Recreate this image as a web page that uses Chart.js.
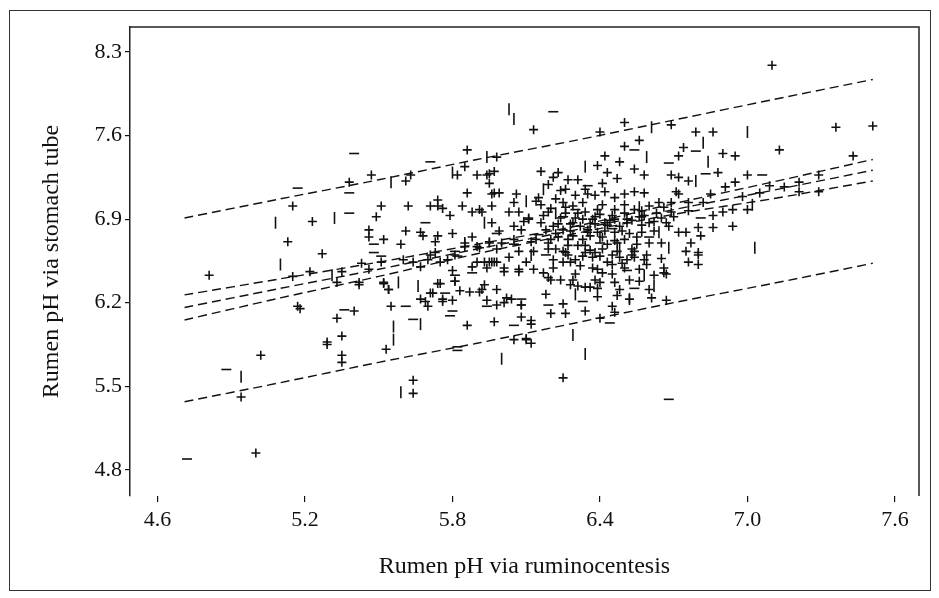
<!DOCTYPE html>
<html>
<head>
<meta charset="utf-8">
<script src="https://cdn.jsdelivr.net/npm/chart.js@4.4.1/dist/chart.umd.min.js"></script>
<style>
  html, body { margin: 0; padding: 0; background: #fff; }
  #wrap { width: 939px; height: 598px; position: relative; }
  #phChart { display: block; }
</style>
</head>
<body>
<div id="wrap"><canvas id="phChart" width="939" height="598"></canvas></div>
<script>
// ===============================
// Data
// ===============================
const xTicks = [4.6, 5.2, 5.8, 6.4, 7.0, 7.6];
const yTicks = [4.8, 5.5, 6.2, 6.9, 7.6, 8.3];

// markers drawn as "+"
const plusPts = [
  [5.47,7.27],[5.38,7.21],[5.15,7.01],[5.51,7.01],[5.62,7.01],[5.49,6.92],[5.23,6.88],[5.46,6.81],[5.61,6.80],
  [5.46,6.75],[5.52,6.73],[5.13,6.71],[5.59,6.69],[5.27,6.61],[5.60,6.56],[5.43,6.53],[5.63,7.27],[5.61,7.22],
  [4.81,6.43],[5.15,6.42],[5.22,6.46],[5.33,6.37],[5.42,6.37],[5.52,6.37],[5.54,6.31],[5.17,6.17],[5.18,6.15],
  [5.40,6.13],[5.33,6.07],[5.55,6.17],[5.35,5.92],[5.29,5.87],[5.29,5.85],[5.53,5.81],[5.02,5.76],[5.35,5.76],
  [5.35,5.70],[4.94,5.41],[5.00,4.94],[5.64,5.55],[5.64,5.44],
  [6.25,5.57],[6.05,5.89],[6.10,5.90],[6.12,5.86],[5.86,6.01],[5.70,6.17],[5.67,6.23],[5.76,6.21],[5.80,6.22],
  [5.72,6.28],[5.74,6.36],[5.81,6.38],[5.83,6.30],[5.91,6.29],[5.93,6.35],[5.98,6.31],[5.94,6.22],[5.98,6.18],
  [6.01,6.20],[6.04,6.23],[6.08,6.18],[6.08,6.08],[5.97,6.04],[6.12,6.05],[6.12,6.02],[6.01,6.46],[6.07,6.46],
  [6.18,6.27],[6.20,6.11],[6.25,6.19],[6.26,6.11],[6.34,6.13],[6.29,6.39],[6.31,6.34],[6.36,6.33],[6.39,6.25],
  [6.39,6.32],[6.41,6.45],[6.46,6.37],[6.45,6.17],[6.46,6.12],[6.40,6.07],[6.20,6.39],[6.19,6.41],[6.38,6.39],
  [6.67,6.44],[6.67,6.22],
  [6.13,7.65],[6.50,7.71],[6.56,7.56],[6.50,7.51],[6.40,7.63],[5.86,7.48],[5.98,7.42],[6.42,7.43],[6.48,7.38],
  [5.82,7.27],[5.85,7.34],[5.90,7.27],[5.94,7.27],[5.95,7.20],[5.97,7.30],[6.16,7.30],[6.23,7.29],[6.39,7.35],
  [6.43,7.29],[6.47,7.24],[6.54,7.32],[6.58,7.27],[6.21,7.25],[6.27,7.23],[6.31,7.23],[6.19,7.19],[6.24,7.14],
  [6.41,7.20],[5.86,7.12],[5.97,7.12],[5.74,7.06],[5.71,7.01],[5.76,6.99],[5.84,7.01],[5.79,6.93],[5.88,6.96],
  [5.92,6.96],[5.96,7.01],[6.05,7.04],[6.15,7.08],[6.03,6.96],[5.68,6.76],[5.74,6.76],[5.80,6.78],[5.88,6.75],
  [5.96,6.87],[6.05,6.84],[6.09,6.88],[6.16,6.87],[6.25,7.04],[6.29,7.01],[6.35,7.11],[6.41,7.02],[6.46,6.98],
  [6.50,7.11],[6.54,7.13],[6.58,7.12],[6.60,7.01],[6.57,6.92],
  [6.21,6.84],[6.25,6.81],[6.29,6.87],[6.33,6.90],[6.38,6.92],[6.42,6.87],[6.46,6.90],[6.51,6.87],[6.56,6.92],
  [6.60,6.87],[6.23,6.75],[6.27,6.73],[6.35,6.79],[6.39,6.79],[6.46,6.79],[6.50,6.73],[6.57,6.79],[5.85,6.67],
  [5.90,6.67],[5.95,6.70],[6.00,6.70],[6.12,6.71],[6.13,6.63],[6.19,6.65],[6.25,6.63],[6.34,6.62],[6.38,6.62],
  [6.45,6.60],[6.51,6.56],[6.58,6.56],[5.73,6.62],[5.70,6.56],[5.90,6.54],[5.97,6.54],[6.21,6.56],[6.28,6.54],
  [6.45,6.52],[6.54,6.63],[5.78,6.56],
  [7.10,8.19],[6.69,7.69],[6.79,7.63],[6.86,7.63],[7.36,7.67],[7.51,7.68],[6.74,7.50],[6.72,7.43],[6.90,7.45],
  [6.95,7.43],[7.13,7.48],[7.43,7.43],[6.69,7.27],[6.72,7.25],[6.76,7.22],[6.88,7.29],[7.00,7.27],[6.95,7.21],
  [6.91,7.17],[7.29,7.27],[7.21,7.21],[7.15,7.17],[7.09,7.18],[7.21,7.13],[7.29,7.13],[7.05,7.12],[6.71,7.13],
  [6.72,7.11],[6.85,7.11],[6.98,7.09],[6.64,7.04],[6.69,7.04],[6.76,7.04],[6.82,7.04],[6.69,6.96],[6.76,6.97],
  [6.94,6.98],[6.90,6.96],[7.00,6.98],[6.86,6.93],[6.65,6.91],[6.67,6.87],[6.80,6.83],[6.86,6.83],[6.94,6.84],
  [6.72,6.79],[6.75,6.79],[6.81,6.76],[6.65,6.70],[6.77,6.70],[6.75,6.63],[6.80,6.62],[6.65,6.57],[6.76,6.54],
  [5.73,6.71],[5.85,6.70],[5.91,6.66],[5.81,6.60],[5.71,6.60],[5.64,6.54],[5.67,6.50],[5.75,6.54],[5.51,6.54],
  [5.80,6.47],[5.88,6.50],[5.93,6.54],[5.98,6.54],[5.75,6.36],[5.81,6.38],[5.87,6.29],[5.92,6.31],[5.76,6.23],
  [5.69,6.21],[5.54,6.31],[5.42,6.35],[5.52,6.36],[5.71,6.28],[6.02,6.24],[6.08,6.18],
  [6.16,7.02],[6.19,6.96],[6.22,7.07],[6.24,6.91],[6.26,7.00],[6.28,6.86],[6.31,6.95],[6.33,7.04],[6.35,6.81],
  [6.37,6.90],[6.39,6.98],[6.41,6.75],[6.43,6.85],[6.45,6.93],[6.47,6.70],[6.49,6.80],[6.51,6.90],[6.53,6.65],
  [6.55,6.75],[6.57,6.85],[6.59,6.60],[6.60,6.70],[6.62,6.80],
  [6.18,6.81],[6.20,6.73],[6.22,6.65],[6.25,6.54],[6.27,6.68],[6.29,6.76],[6.32,6.51],[6.34,6.68],[6.37,6.58],
  [6.39,6.48],[6.41,6.65],[6.43,6.54],[6.45,6.44],[6.48,6.58],[6.50,6.49],[6.52,6.39],
  [6.05,6.73],[6.07,6.63],[6.10,6.54],[6.13,6.48],[6.08,6.81],[6.11,6.91],[6.14,6.73],[6.03,6.58],[6.01,6.49],
  [5.99,6.80],[5.98,6.65],[5.95,6.54],
  [6.26,7.15],[6.30,7.10],[6.34,7.15],[6.38,7.10],[6.42,7.13],[6.46,7.08],[6.50,7.02],[6.54,6.98],[6.58,6.93],
  [6.62,6.88],
  [6.24,6.39],[6.28,6.35],[6.34,6.33],[6.40,6.37],[6.48,6.31],[6.56,6.38],[6.62,6.43],[6.66,6.49],[6.60,6.31],
  [6.61,6.24],[6.52,6.23],[6.47,6.26],
  [5.95,7.28],[5.96,7.11],[5.99,7.12],[6.06,7.11],[6.14,7.05],[5.74,7.01],[5.91,6.98],[6.07,6.96],[6.11,6.90],
  [5.67,6.79],[5.95,6.71],
  [5.35,6.46],[5.46,6.48],[5.94,6.49],[5.96,6.54],[6.07,6.48],
  [6.10,5.89],[6.66,6.45],[6.80,6.60],[6.17,6.45],[6.21,6.49],[6.30,6.44],[6.37,6.49],[6.59,6.52],[6.33,6.59],
  [6.26,6.62],[6.54,6.58],[6.80,6.52],
  // densest part of the cloud
  [6.17,6.93],[6.20,6.99],[6.23,6.86],[6.26,6.95],[6.28,6.80],[6.30,6.91],[6.32,6.84],[6.34,6.96],[6.36,6.76],
  [6.38,6.86],[6.40,6.94],[6.42,6.80],[6.44,6.89],[6.46,6.72],[6.48,6.84],[6.50,6.95],[6.52,6.78],[6.53,6.89],
  [6.55,6.69],[6.57,6.97],[6.19,6.70],[6.22,6.78],[6.31,6.68],[6.33,6.73],[6.36,6.64],[6.40,6.59],[6.43,6.69],
  [6.47,6.63],[6.49,6.53],[6.53,6.60],[6.56,6.48],[6.27,6.60],[6.30,6.56],[6.63,6.95],[6.66,7.00],[6.70,6.92],
  [6.68,6.84]
];

// markers that print as a short horizontal dash
const dashPts = [
  [5.40,7.45],[5.17,7.16],[5.38,7.12],[5.38,6.95],[5.48,6.69],[5.48,6.62],[5.51,6.59],[5.36,6.14],[5.61,6.17],
  [4.88,5.64],[4.72,4.89],[5.82,5.80],[5.82,5.83],[5.79,6.09],[5.80,6.13],[5.77,6.28],[5.81,6.43],[5.88,6.45],
  [5.94,6.17],[6.08,6.23],[6.05,6.01],[6.19,6.18],[6.33,6.21],[6.54,6.32],[6.44,6.03],[6.68,5.39],[6.21,7.80],
  [6.54,7.48],[5.71,7.38],[6.35,7.18],[5.69,6.87],[6.05,6.69],[5.82,6.59],[5.81,6.63],[6.68,7.37],[6.83,7.28],
  [7.06,7.27],[6.81,6.91],[5.64,6.06],[6.51,6.47],[6.79,7.47],
  [6.30,6.98],[6.45,6.82],[6.15,6.77],[6.60,6.75],[5.98,6.78],[6.25,6.92],[6.40,6.70],[6.18,6.60]
];

// markers that print as a short vertical bar
const barPts = [
  [5.08,6.87],[5.32,6.91],[5.10,6.52],[5.31,6.43],[5.56,6.00],[5.56,5.89],[4.94,5.58],[5.59,5.45],[6.00,5.73],
  [6.34,5.77],[6.29,5.93],[5.67,6.02],[5.66,6.34],[6.30,6.27],[6.52,6.23],[6.58,6.43],[6.62,6.34],[6.03,7.82],
  [6.05,7.74],[6.61,7.67],[5.94,7.42],[6.34,7.34],[6.59,7.42],[6.17,7.15],[5.93,6.87],[6.40,6.75],[7.00,7.63],
  [6.82,7.54],[6.84,7.38],[6.79,7.22],[7.02,7.02],[6.64,6.79],[6.68,6.66],[7.03,6.66],[5.55,7.21],[5.80,7.29],
  [6.10,7.05],[5.85,6.70],[5.58,6.37],[6.22,6.95],[6.36,6.85],[6.48,6.66],[6.12,6.60],[6.56,7.00]
];

// regression line, 95% confidence band and prediction band
const lineX     = [4.71, 5.1, 5.5, 5.9, 6.3, 6.7, 7.1, 7.51];
const fitY      = [6.16, 6.32, 6.48, 6.65, 6.81, 6.98, 7.14, 7.31];
const ciUpperY  = [6.265, 6.40, 6.54, 6.69, 6.84, 7.03, 7.21, 7.40];
const ciLowerY  = [6.055, 6.24, 6.42, 6.61, 6.78, 6.94, 7.07, 7.22];
const piUpperY  = [6.91, 7.07, 7.23, 7.40, 7.56, 7.73, 7.90, 8.07];
const piLowerY  = [5.37, 5.53, 5.70, 5.86, 6.03, 6.20, 6.36, 6.53];

// ===============================
// Helpers
// ===============================
const ink = '#111';
const toXY = pts => pts.map(p => ({ x: p[0], y: p[1] }));
const lineData = ys => lineX.map((x, i) => ({ x: x, y: ys[i] }));

function bandLine(ys) {
  return {
    type: 'line',
    data: lineData(ys),
    borderColor: ink,
    borderWidth: 1.4,
    borderDash: [9, 5],
    pointRadius: 0,
    fill: false,
    tension: 0.3
  };
}

// frame: top + right lines of the plot box and the outer border
const framePlugin = {
  id: 'frame',
  afterDraw(chart) {
    const { ctx, chartArea } = chart;
    ctx.save();
    ctx.strokeStyle = '#222';
    ctx.lineWidth = 1.5;
    ctx.beginPath();
    ctx.moveTo(chartArea.left, chartArea.top);
    ctx.lineTo(chartArea.right, chartArea.top);
    ctx.lineTo(chartArea.right, chartArea.bottom);
    ctx.stroke();
    ctx.lineWidth = 1;
    ctx.strokeStyle = '#333';
    ctx.strokeRect(9.5, 10.5, 921, 580);
    ctx.restore();
  }
};

const serif = "'Liberation Serif', 'DejaVu Serif', serif";

// ===============================
// Chart
// ===============================
const ctx = document.getElementById('phChart').getContext('2d');

new Chart(ctx, {
  type: 'scatter',
  data: {
    datasets: [
      {
        data: toXY(plusPts),
        pointStyle: 'cross',
        pointRadius: 4.5,
        pointBorderWidth: 1.6,
        pointBorderColor: ink,
        pointBackgroundColor: ink
      },
      {
        data: toXY(dashPts),
        pointStyle: 'line',
        pointRadius: 5,
        pointBorderWidth: 1.6,
        pointBorderColor: ink
      },
      {
        data: toXY(barPts),
        pointStyle: 'line',
        pointRotation: 90,
        pointRadius: 6,
        pointBorderWidth: 1.6,
        pointBorderColor: ink
      },
      bandLine(piUpperY),
      bandLine(ciUpperY),
      bandLine(fitY),
      bandLine(ciLowerY),
      bandLine(piLowerY)
    ]
  },
  options: {
    responsive: false,
    animation: false,
    devicePixelRatio: 1,
    layout: { padding: { top: 27, right: 20, left: 0, bottom: 0 } },
    plugins: {
      legend: { display: false },
      tooltip: { enabled: false }
    },
    scales: {
      x: {
        type: 'linear',
        min: 4.488,
        max: 7.698,
        afterFit: s => { s.height = 102; },
        afterBuildTicks: s => { s.ticks = xTicks.map(v => ({ value: v })); },
        border: { display: false },
        grid: { drawOnChartArea: false, drawTicks: true, tickLength: 6, color: ink, lineWidth: 1.2 },
        ticks: {
          color: ink,
          padding: 5,
          autoSkip: false,
          maxRotation: 0,
          font: { family: serif, size: 22 },
          callback: v => v.toFixed(1)
        },
        title: {
          display: true,
          text: 'Rumen pH via ruminocentesis',
          color: ink,
          font: { family: serif, size: 24 },
          padding: { top: 0, bottom: 17 }
        }
      },
      y: {
        type: 'linear',
        min: 4.58,
        max: 8.51,
        afterFit: s => { s.width = 130; },
        afterBuildTicks: s => { s.ticks = yTicks.map(v => ({ value: v })); },
        border: { display: true, color: '#222', width: 1.5 },
        grid: { drawOnChartArea: false, drawTicks: true, tickLength: 5, color: ink, lineWidth: 1.2 },
        ticks: {
          color: ink,
          padding: 3,
          autoSkip: false,
          font: { family: serif, size: 22 },
          callback: v => v.toFixed(1)
        },
        title: {
          display: true,
          text: 'Rumen pH via stomach tube',
          color: ink,
          font: { family: serif, size: 24 },
          padding: { top: 37, bottom: 0 }
        }
      }
    }
  },
  plugins: [framePlugin]
});
</script>
</body>
</html>
